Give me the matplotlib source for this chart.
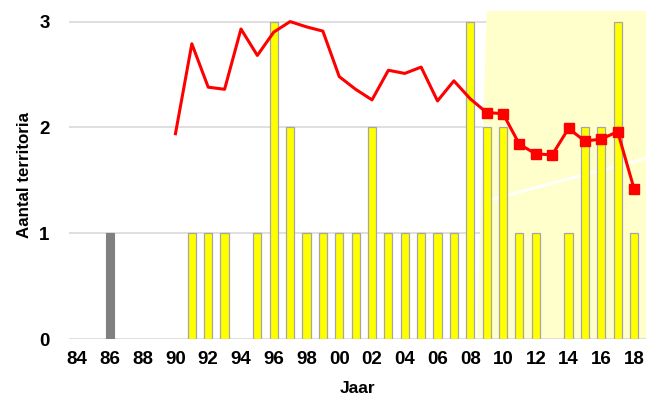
import matplotlib
matplotlib.use("Agg")
import matplotlib.pyplot as plt
from matplotlib.patches import Polygon
import numpy as np

plt.rcParams['font.family'] = ['Liberation Sans', 'DejaVu Sans']

years = list(range(1984, 2019))
tick_labels = ["84", "86", "88", "90", "92", "94", "96", "98", "00", "02",
               "04", "06", "08", "10", "12", "14", "16", "18"]
gray_years = [1986]
gray_values = [1]
yellow_years = [1991, 1992, 1993, 1995, 1996, 1997, 1998, 1999, 2000, 2001,
                2002, 2003, 2004, 2005, 2006, 2007, 2008, 2009, 2010, 2011,
                2012, 2014, 2015, 2016, 2017, 2018]
yellow_values = [1, 1, 1, 1, 3, 2, 1, 1, 1, 1,
                 2, 1, 1, 1, 1, 1, 3, 2, 2, 1,
                 1, 1, 2, 2, 3, 1]
line_years = list(range(1990, 2019))
line_values = [1.94, 2.79, 2.38, 2.36, 2.93, 2.68, 2.90, 3.00, 2.95, 2.91,
               2.48, 2.36, 2.26, 2.54, 2.51, 2.57, 2.25, 2.44, 2.27, 2.14,
               2.13, 1.84, 1.75, 1.74, 1.99, 1.87, 1.89, 1.96, 1.42]
marker_from = 2009

fig = plt.figure(figsize=(6.46, 4.01), dpi=100)
ax = fig.add_axes([69/646, (401-339)/401, 1 - 69/646, (339-11)/401])

def xi(y):
    return y - 1984

poly = Polygon([[24.4, 0], [25.0, 3.1], [35.5, 3.1], [35.5, 0]],
               closed=True, facecolor="#FFFFCC", edgecolor="none", zorder=1)
ax.add_patch(poly)
ax.plot([25.3, 34.8], [1.32, 1.71], color="white", lw=2, zorder=1.5)

for g in [1, 2, 3]:
    ax.axhline(g, color="#d9d9d9", lw=1.2, zorder=0.5)
ax.axhline(0, color="#d9d9d9", lw=1.2, zorder=2)

ax.bar([xi(y) for y in gray_years], gray_values, width=0.5, color="#808080",
       edgecolor="#808080", linewidth=0.8, zorder=3)
ax.bar([xi(y) for y in yellow_years], yellow_values, width=0.5, color="#FFFF00",
       edgecolor="#a6a6a6", linewidth=0.9, zorder=3)

lx = [xi(y) for y in line_years]
ax.plot(lx, line_values, color="#FF0000", lw=2.2, zorder=4)
mx = [xi(y) for y in line_years if y >= marker_from]
my = [v for y, v in zip(line_years, line_values) if y >= marker_from]
ax.plot(mx, my, linestyle="none", marker="s", markersize=7.5, color="#FF0000", zorder=5)

ax.set_xlim(-0.5, 34.73)
ax.set_ylim(0, 3.1)
ax.set_xticks(np.arange(0, 35, 2))
ax.set_xticklabels(tick_labels, fontsize=13.5, fontweight="bold")
ax.set_yticks([0, 1, 2, 3])
ax.set_yticklabels(["0", "1", "2", "3"], fontsize=13.5, fontweight="bold")
ax.tick_params(axis="x", length=0, pad=9)
ax.tick_params(axis="y", length=0, pad=14)
for s in ax.spines.values():
    s.set_visible(False)
ax.set_xlabel("Jaar", fontsize=12.5, fontweight="bold", labelpad=9)
ax.set_ylabel("Aantal territoria", fontsize=12.2, fontweight="bold", labelpad=5)

fig.savefig("out.png", dpi=100)
